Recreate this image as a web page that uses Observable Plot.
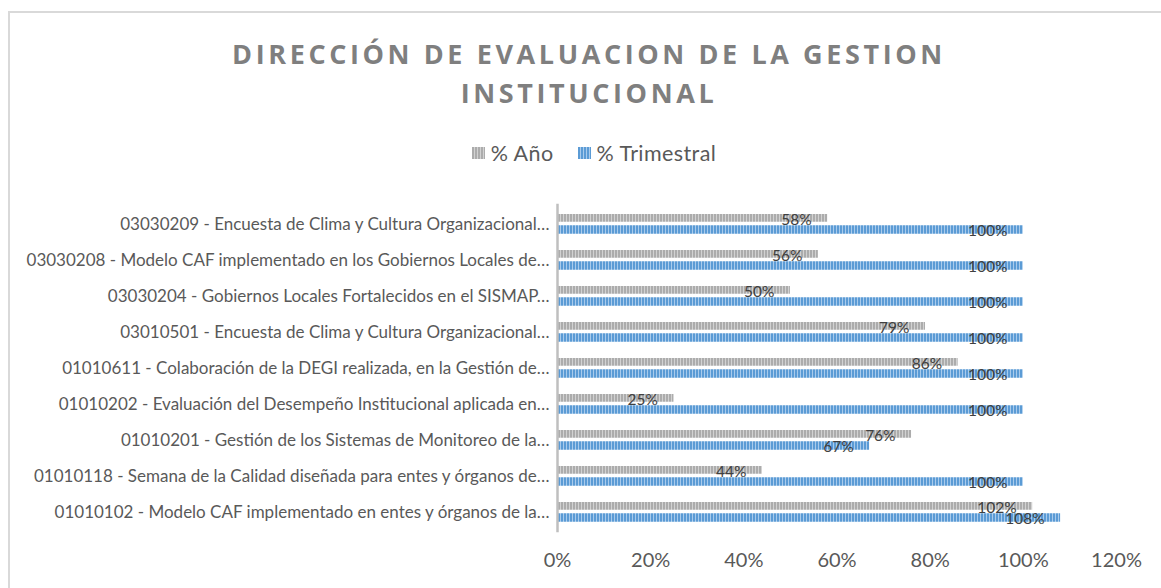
<!DOCTYPE html>
<html>
<head>
<meta charset="utf-8">
<script src="https://cdn.jsdelivr.net/npm/d3@7"></script>
<script src="https://cdn.jsdelivr.net/npm/@observablehq/plot@0.6"></script>
<style>
  html, body { margin: 0; padding: 0; background: #fff; }
  #wrap { position: relative; width: 1161px; height: 588px; overflow: hidden; font-family: Lato, "Open Sans", sans-serif; }
  #frame { position: absolute; left: 8px; top: 11px; width: 1200px; height: 700px; border-left: 2px solid #d9d9d9; border-top: 2px solid #d9d9d9; box-sizing: border-box; }
  #title { position: absolute; left: 0; width: 1178px; top: 34px; text-align: center; font-family: "Open Sans", sans-serif; font-weight: 700; font-size: 27px; line-height: 39px; letter-spacing: 3.6px; color: #7f7f7f; }
  #legend { position: absolute; left: 0; width: 1188px; top: 138px; text-align: center; font-size: 21.5px; letter-spacing: 0.4px; color: #595959; }
  .item { display: inline-flex; align-items: center; margin: 0 12px; }
  .sw { display: inline-block; width: 13px; height: 12px; margin-right: 6px; }
  #chart { position: absolute; left: 0; top: 0; }
</style>
</head>
<body>
<div id="wrap">
  <div id="frame"></div>
  <div id="chart"></div>
  <div id="title">DIRECCIÓN DE EVALUACION DE LA GESTION<br>INSTITUCIONAL</div>
  <div id="legend"></div>
</div>
<script>
const categories = [
  "03030209 - Encuesta de Clima y Cultura Organizacional…",
  "03030208 - Modelo CAF implementado en los Gobiernos Locales de…",
  "03030204 - Gobiernos Locales Fortalecidos en el SISMAP…",
  "03010501 - Encuesta de Clima y Cultura Organizacional…",
  "01010611 - Colaboración de la DEGI realizada, en la Gestión de…",
  "01010202 - Evaluación del Desempeño Institucional aplicada en…",
  "01010201 - Gestión de los Sistemas de Monitoreo de la…",
  "01010118 - Semana de la Calidad diseñada para entes y órganos de…",
  "01010102 - Modelo CAF implementado en entes y órganos de la…"
];
const anio = [58, 56, 50, 79, 86, 25, 76, 44, 102];
const trimestral = [100, 100, 100, 100, 100, 100, 67, 100, 108];
const xTicks = [0, 20, 40, 60, 80, 100, 120];
const seriesNames = ["% Año", "% Trimestral"];

const rows = categories.map((c, i) => ({cat: c, anio: anio[i], trim: trimestral[i]}));

const stepHalf = 18.25;
const plot = Plot.plot({
  width: 1161,
  height: 588,
  marginTop: 203.75,
  marginBottom: 55.75,
  marginLeft: 557,
  marginRight: 45,
  style: {color: "#595959", fontFamily: "Lato, 'Open Sans', sans-serif", background: "transparent"},
  x: {domain: [0, 120]},
  y: {domain: categories, padding: 0},
  marks: [
    Plot.barX(rows, {x: "anio", y: "cat", fill: "url(#stripeGray)", insetTop: 8, insetBottom: stepHalf + 2}),
    Plot.barX(rows, {x: "trim", y: "cat", fill: "url(#stripeBlue)", insetTop: stepHalf + 1, insetBottom: 8.25}),
    Plot.ruleX([0], {stroke: "#bfbfbf", strokeWidth: 2.5}),
    Plot.text(rows, {x: "anio", y: "cat", text: d => d.anio + "%", textAnchor: "end", dx: -16, dy: -4, fontSize: 15.5, fill: "#404040"}),
    Plot.text(rows, {x: "trim", y: "cat", text: d => d.trim + "%", textAnchor: "end", dx: -16, dy: 7, fontSize: 15.5, fill: "#404040"}),
    Plot.axisX({ticks: xTicks, tickFormat: d => d + "%", tickSize: 0, tickPadding: 20, fontSize: 20, label: null}),
    Plot.axisY({tickSize: 0, tickPadding: 8, fontSize: 17, label: null})
  ]
});

const svg = d3.select(plot);
const defs = svg.insert("defs", ":first-child");
function stripe(id, c1, c2) {
  const p = defs.append("pattern").attr("id", id).attr("patternUnits", "userSpaceOnUse").attr("width", 3).attr("height", 10);
  p.append("rect").attr("width", 3).attr("height", 10).attr("fill", c1);
  p.append("rect").attr("x", 2).attr("width", 1).attr("height", 10).attr("fill", c2);
}
stripe("stripeGray", "#acacac", "#d2d2d2");
stripe("stripeBlue", "#5b9bd5", "#a9cbec");
document.getElementById("chart").appendChild(plot);

const legend = d3.select("#legend");
const swatchCss = [
  "repeating-linear-gradient(90deg,#acacac 0 2px,#d2d2d2 2px 3px)",
  "repeating-linear-gradient(90deg,#5b9bd5 0 2px,#a9cbec 2px 3px)"
];
seriesNames.forEach((n, i) => {
  const it = legend.append("span").attr("class", "item");
  it.append("span").attr("class", "sw").style("background", swatchCss[i]);
  it.append("span").text(n);
});
</script>
</body>
</html>
